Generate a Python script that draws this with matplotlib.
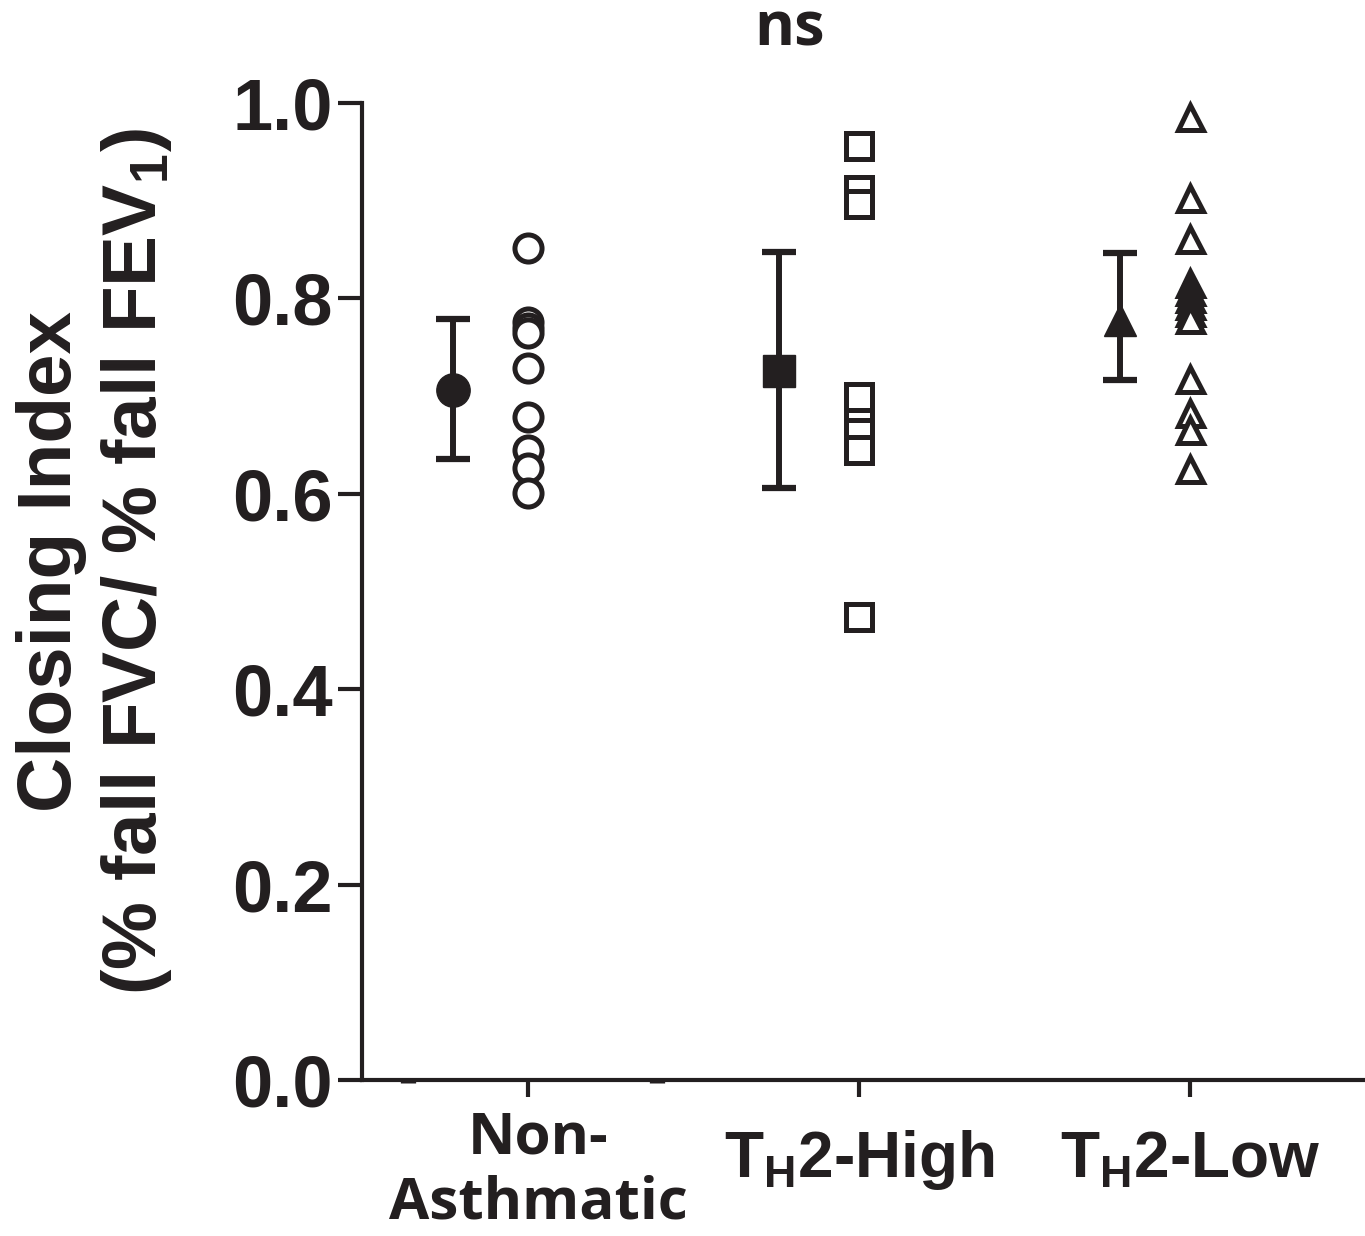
import matplotlib
matplotlib.use("Agg")
import matplotlib.pyplot as plt
from matplotlib.transforms import blended_transform_factory

# --------------------------------------------------------------------------- #
# data
# --------------------------------------------------------------------------- #
groups = ["Non-\nAsthmatic", "T$_\\mathregular{H}$2-High", "T$_\\mathregular{H}$2-Low"]

non_asthmatic = [0.852, 0.776, 0.770, 0.765, 0.729, 0.679, 0.645, 0.626, 0.601]
th2_high = [0.956, 0.911, 0.897, 0.699, 0.672, 0.662, 0.645, 0.474]
th2_low = [0.986, 0.903, 0.861, 0.816, 0.808, 0.800, 0.793, 0.786, 0.779,
           0.718, 0.683, 0.665, 0.625]

means = [0.706, 0.726, 0.778]
err_lo = [0.636, 0.606, 0.716]
err_hi = [0.779, 0.847, 0.846]

INK = "#231f20"
data_x = [1.0, 2.0, 3.0]
summary_x = [0.773, 1.758, 2.789]
open_markers = ["o", "s", "^"]
open_sizes = [19.5, 19, 18]
filled_sizes = [24, 23, 23]

# --------------------------------------------------------------------------- #
fig = plt.figure(figsize=(13.65, 12.36), dpi=100)
ax = fig.add_axes([362 / 1365, 1 - 1080 / 1236, 1 - 362 / 1365, 977 / 1236])

series = [non_asthmatic, th2_high, th2_low]
for k, vals in enumerate(series):
    ax.plot([data_x[k]] * len(vals), vals, linestyle="none",
            marker=open_markers[k], ms=open_sizes[k], mfc="white", mec=INK,
            mew=3.6, clip_on=False, zorder=3)
    ax.errorbar(summary_x[k], means[k],
                yerr=[[means[k] - err_lo[k]], [err_hi[k] - means[k]]],
                fmt=open_markers[k], ms=filled_sizes[k], mfc=INK, mec=INK,
                ecolor=INK, elinewidth=4.3, capsize=12, capthick=4.5, zorder=4)

ax.set_xlim(1 - (528 - 362) / 331, 3 + (1365 - 1190) / 331)
ax.set_ylim(0, 1.0)

for s in ("top", "right"):
    ax.spines[s].set_visible(False)
for s in ("left", "bottom"):
    ax.spines[s].set_linewidth(3)
    ax.spines[s].set_color(INK)

ax.set_yticks([0.0, 0.2, 0.4, 0.6, 0.8, 1.0])
ax.set_yticklabels([f"{v:.1f}" for v in ax.get_yticks()],
                   fontsize=52, fontweight="bold", family="Liberation Sans",
                   color=INK)
ax.tick_params(axis="y", length=17, width=3, color=INK, pad=4)

ax.set_xticks(data_x)
ax.set_xticklabels([])
ax.tick_params(axis="x", length=12, width=3, color=INK)
ax.set_xticks([1 + (408 - 528) / 331, 1 + (657 - 528) / 331], minor=True)
ax.tick_params(axis="x", which="minor", length=2, width=11, color=INK)

# category labels
trans = blended_transform_factory(ax.transData, fig.transFigure)
ax.text(1.03, 1 - 1110 / 1236, groups[0], transform=trans, ha="center", va="top",
        fontsize=42, fontweight="bold", family="Open Sans", color=INK,
        linespacing=1.14)
for k in (1, 2):
    ax.text(data_x[k], 1 - 1177 / 1236, groups[k], transform=trans,
            ha="center", va="baseline", fontsize=46, fontweight="bold",
            family="Liberation Sans", color=INK)

# y label
fig.text(95 / 1365, 1 - 562 / 1236,
         "Closing Index\n(% fall FVC/ % fall FEV$_\\mathregular{1}$)",
         rotation=90, ha="center", va="center", multialignment="center",
         fontsize=55, fontweight="bold", family="Liberation Sans", color=INK,
         linespacing=1.2)

# significance
fig.text(790 / 1365, 1 - 45 / 1236, "ns", ha="center", va="baseline",
         fontsize=44, fontweight="bold", family="Open Sans", color=INK)

fig.savefig("out.png", dpi=100)
